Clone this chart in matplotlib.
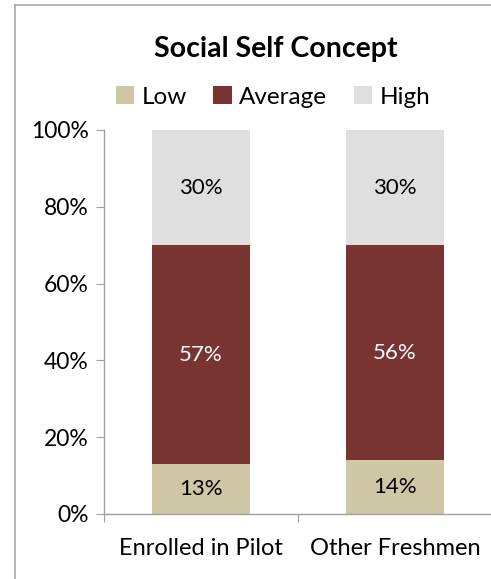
import matplotlib
matplotlib.use('Agg')
import matplotlib.pyplot as plt
from matplotlib.lines import Line2D
from matplotlib.patches import Patch
from matplotlib.ticker import FuncFormatter

groups = ['Enrolled in Pilot', 'Other Freshmen']
low = [13, 14]
average = [57, 56]
high = [30, 30]
series = ['Low', 'Average', 'High']
colors = ['#CEC6A5', '#773431', '#DFDFDF']
text_colors = ['black', 'white', 'black']

plt.rcParams['font.family'] = ['Lato', 'DejaVu Sans']

fig = plt.figure(figsize=(4.91, 5.79), dpi=100)
ax = fig.add_axes([104/491, 1-514/579, 388/491, 384/579])

x = list(range(len(groups)))
bottom = [0, 0]
for name, vals, c, tc in zip(series, [low, average, high], colors, text_colors):
    bars = ax.bar(x, vals, width=0.505, bottom=bottom, color=c, label=name)
    for xi, b, v in zip(x, bottom, vals):
        ax.text(xi, b + v / 2, f'{v}%', ha='center', va='center', fontsize=16, color=tc)
    bottom = [b + v for b, v in zip(bottom, vals)]

ax.set_xlim(-0.5, 1.5)
ax.set_ylim(0, 100)
ax.set_yticks(range(0, 101, 20))
ax.yaxis.set_major_formatter(FuncFormatter(lambda v, p: f'{int(v)}%'))
ax.set_xticks([-0.5, 0.5, 1.5])
ax.set_xticklabels([])
ax.set_xticks(x, minor=True)
ax.set_xticklabels(groups, minor=True)
ax.tick_params(axis='x', which='minor', length=0, pad=17, labelsize=17)
ax.tick_params(axis='x', which='major', length=6, color='#A0A0A0')
ax.tick_params(axis='y', length=6, color='#A0A0A0', labelsize=16.5, pad=5)
for s in ['top', 'right']:
    ax.spines[s].set_visible(False)
for s in ['left', 'bottom']:
    ax.spines[s].set_color('#A0A0A0')
    ax.spines[s].set_linewidth(1.0)
ax.spines['left'].set_bounds(0, 100)

fig.text(276/491, 1-49/579, 'Social Self Concept', ha='center', va='center',
         fontsize=20.5, fontweight='bold')
handles = [Patch(facecolor=c, edgecolor='none') for c in colors]
fig.legend(handles, series, loc='center', bbox_to_anchor=(273/491, 1-97/579),
           ncol=3, frameon=False, fontsize=17.5, handlelength=0.75, handleheight=0.75,
           handletextpad=0.3, columnspacing=1.1, borderpad=0)

# outer chart border (cropped)
fig.add_artist(Line2D([14.5/491, 14.5/491], [0, 1-4.5/579], transform=fig.transFigure,
                      color='#A6A6A6', lw=1.2))
fig.add_artist(Line2D([14.5/491, 1], [1-4.5/579, 1-4.5/579], transform=fig.transFigure,
                      color='#A6A6A6', lw=1.2))

fig.savefig('out.png', dpi=100)
